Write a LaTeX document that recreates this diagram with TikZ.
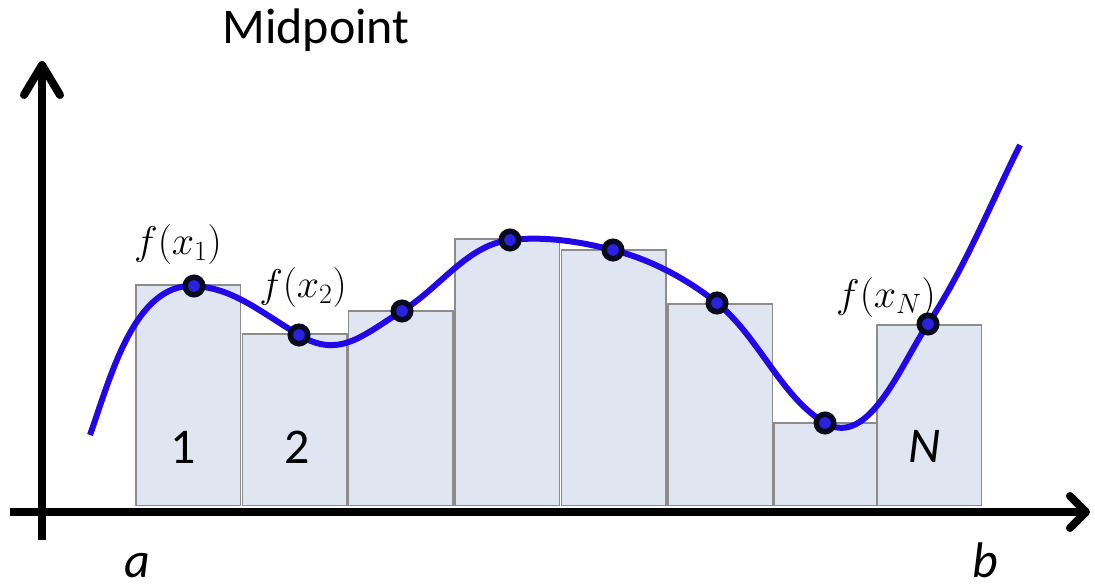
\RequirePackage{fix-cm}
\documentclass[tikz,border=0pt]{standalone}
\usepackage{fontspec}
\setmainfont{Carlito}
\usetikzlibrary{arrows.meta}
\definecolor{barfill}{HTML}{DFE6F1}
\definecolor{bargray}{HTML}{8C8C8C}
\definecolor{curveblue}{HTML}{2208E8}
\definecolor{dotblue}{HTML}{2A22E0}
\definecolor{dotrim}{HTML}{0A0A1E}
\begin{document}
\begin{tikzpicture}[x=1pt,y=-1pt,
  bar/.style={draw=bargray, line width=1.5pt, fill=barfill},
  axis/.style={line width=8pt, black},
  curve/.style={line width=6pt, curveblue},
  mdot/.style={circle, draw=dotrim, fill=dotblue, line width=5.5pt, minimum size=17.5pt, inner sep=0pt},
  bigtext/.style={font=\fontsize{50}{60}\selectfont, inner sep=0pt},
  flabel/.style={font=\fontsize{40}{46}\selectfont, inner sep=0pt}]
\useasboundingbox (0,0) rectangle (1095,585);
% bars
\foreach \l/\t in {136/285, 242.5/334, 348.7/311, 455/239, 561.5/250, 668/304, 774/423, 877/325}
  \draw[bar] (\l,\t) rectangle (\l+104.5,505.7);
% bar numbers
\node[bigtext] (n1) at (183,447) {1};
\node[bigtext] (n2) at (297,447) {2};
\node[bigtext] (nN) at (925,446) {\itshape N};
% curve
\coordinate (c0) at (90,435);
\coordinate (d1) at (194,286);
\coordinate (d2) at (299,335);
\coordinate (d3) at (402,311);
\coordinate (d4) at (510,240);
\coordinate (d5) at (613,250);
\coordinate (d6) at (717,303);
\coordinate (d7) at (825,423);
\coordinate (d8) at (928,324);
\coordinate (c9) at (1020,145);
\draw[curve] (c0) .. controls +(20,-56) and +(-60,-3) .. (d1)
  .. controls +(39,2) and +(-40,-24) .. (d2)
  .. controls +(40,24) and +(-40,25) .. (d3)
  .. controls +(38,-23) and +(-43,5) .. (d4)
  .. controls +(35,-4) and +(-34,-8.5) .. (d5)
  .. controls +(38,9.5) and +(-30,-24) .. (d6)
  .. controls +(42,34) and +(-44,-26) .. (d7)
  .. controls +(44,26) and +(-27,40) .. (d8)
  .. controls +(37,-56) and +(-30,60) .. (c9);
% dots
\foreach \d in {d1,d2,d3,d4,d5,d6,d7,d8}
  \node[mdot] (p\d) at (\d) {};
% function labels
\node[flabel] (f1) at (178,245) {$f(x_1)$};
\node[flabel] (f2) at (303,288) {$f(x_2)$};
\node[flabel] (fN) at (886,298) {$f(x_N)$};
% axes
\coordinate (yb) at (42,540);
\coordinate (yt) at (42,61);
\coordinate (xl) at (10,512);
\coordinate (xr) at (1090,512);
\draw[axis, -{Straight Barb[length=30pt, width=36pt, round]}] (yb) -- (yt);
\draw[axis, -{Straight Barb[length=16pt, width=32pt, round]}] (xl) -- (xr);
% texts
\node[bigtext] (title) at (316,30) {Midpoint};
\node[bigtext, anchor=base] (a) at (137,577) {\itshape a};
\node[bigtext, anchor=base] (b) at (985,577) {\itshape b};
\end{tikzpicture}
\end{document}
